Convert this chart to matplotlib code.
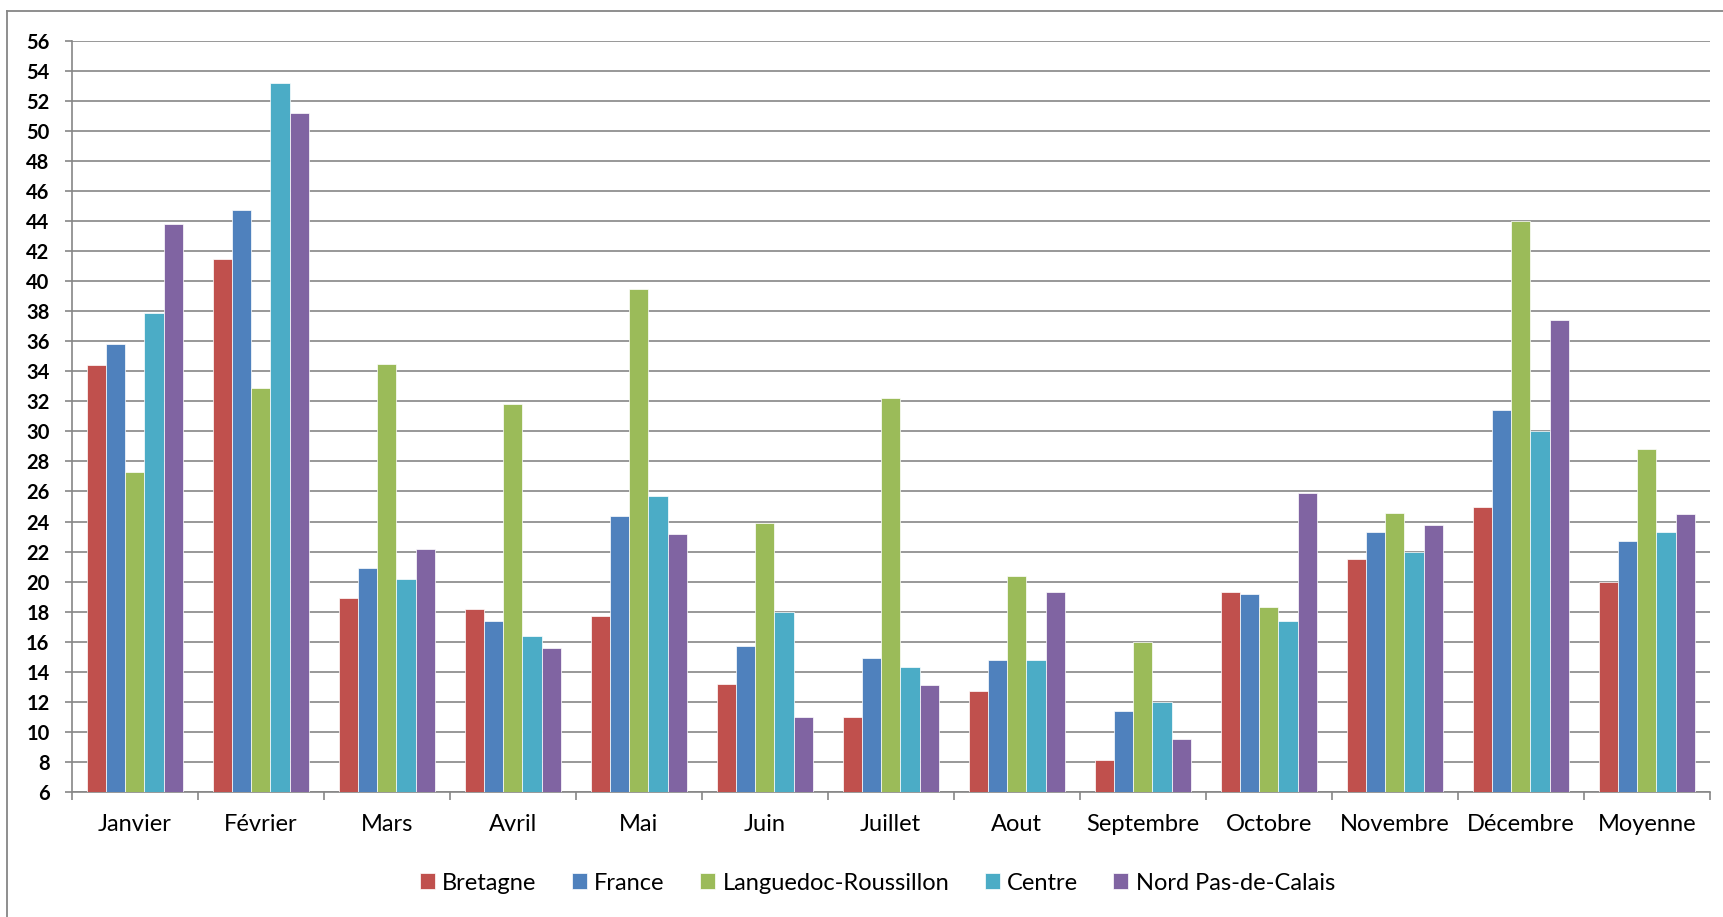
# -*- coding: utf-8 -*-
''' Bar chart per month and region. '''

import numpy as np
import matplotlib.pyplot as plt
from matplotlib.lines import Line2D

months = ['Janvier', 'Février', 'Mars', 'Avril', 'Mai', 'Juin', 'Juillet',
          'Aout', 'Septembre', 'Octobre', 'Novembre', 'Décembre', 'Moyenne']
regions = ['Bretagne', 'France', 'Languedoc-Roussillon', 'Centre',
           'Nord Pas-de-Calais']

bretagne = [34.4, 41.5, 18.9, 18.2, 17.7, 13.2, 11.0, 12.7, 8.1, 19.3, 21.5, 25.0, 20.0]
france = [35.8, 44.7, 20.9, 17.4, 24.4, 15.7, 14.9, 14.8, 11.4, 19.2, 23.3, 31.4, 22.7]
languedoc = [27.3, 32.9, 34.5, 31.8, 39.5, 23.9, 32.2, 20.4, 16.0, 18.3, 24.6, 44.0, 28.8]
centre = [37.9, 53.2, 20.2, 16.4, 25.7, 18.0, 14.3, 14.8, 12.0, 17.4, 22.0, 30.0, 23.3]
nord = [43.8, 51.2, 22.2, 15.6, 23.2, 11.0, 13.1, 19.3, 9.5, 25.9, 23.8, 37.4, 24.5]

series = [bretagne, france, languedoc, centre, nord]
colors = ['#C0504D', '#4F81BD', '#9BBB59', '#4BACC6', '#8064A2']
grid_col = '#868686'

plt.rcParams['font.family'] = ['Lato', 'DejaVu Sans']

fig = plt.figure(figsize=(17.24, 9.17), dpi=100)
ax = fig.add_axes([71.7 / 1724, 1 - 792 / 917, (1709.7 - 71.7) / 1724, (792 - 40.7) / 917])

x = np.arange(len(months))
w = 0.153
for i, (vals, name, c) in enumerate(zip(series, regions, colors)):
    ax.bar(x + (i - 2) * w, np.array(vals) - 6, width=w, bottom=6, color=c,
           edgecolor='white', linewidth=0.5, label=name, zorder=3)

ax.set_xlim(-0.5, len(months) - 0.5)
ax.set_ylim(6, 56)
ax.set_yticks(np.arange(6, 57, 2))
ax.set_xticks(x)
ax.set_xticklabels(months, fontsize=17)
ax.set_xticks(np.arange(-0.5, len(months), 1), minor=True)
ax.tick_params(axis='x', which='major', length=0, pad=16)
ax.tick_params(axis='x', which='minor', length=6, width=1.2, color=grid_col)
ax.tick_params(axis='y', length=5, width=1.2, color=grid_col, pad=11)
for lab in ax.get_yticklabels():
    lab.set_fontsize(14.5)
    lab.set_fontweight('bold')

ax.grid(axis='y', color=grid_col, linewidth=1.2, zorder=0)
ax.set_axisbelow(True)
for s in ['top', 'right']:
    ax.spines[s].set_visible(False)
for s in ['left', 'bottom']:
    ax.spines[s].set_color(grid_col)
    ax.spines[s].set_linewidth(1.2)

# outer chart frame (only top and left edges visible)
fx = 7.5 / 1724
fy = 1 - 11 / 917
fig.add_artist(Line2D([fx, fx], [0, fy], transform=fig.transFigure,
                      color=grid_col, linewidth=1.3))
fig.add_artist(Line2D([fx, 1], [fy, fy], transform=fig.transFigure,
                      color=grid_col, linewidth=1.3))

fig.legend(loc='center', bbox_to_anchor=(877.5 / 1724, 1 - 883 / 917), ncol=5,
           frameon=False, fontsize=17, handlelength=0.64, handleheight=0.64,
           handletextpad=0.3, columnspacing=1.5)

fig.savefig('out.png', dpi=100)
